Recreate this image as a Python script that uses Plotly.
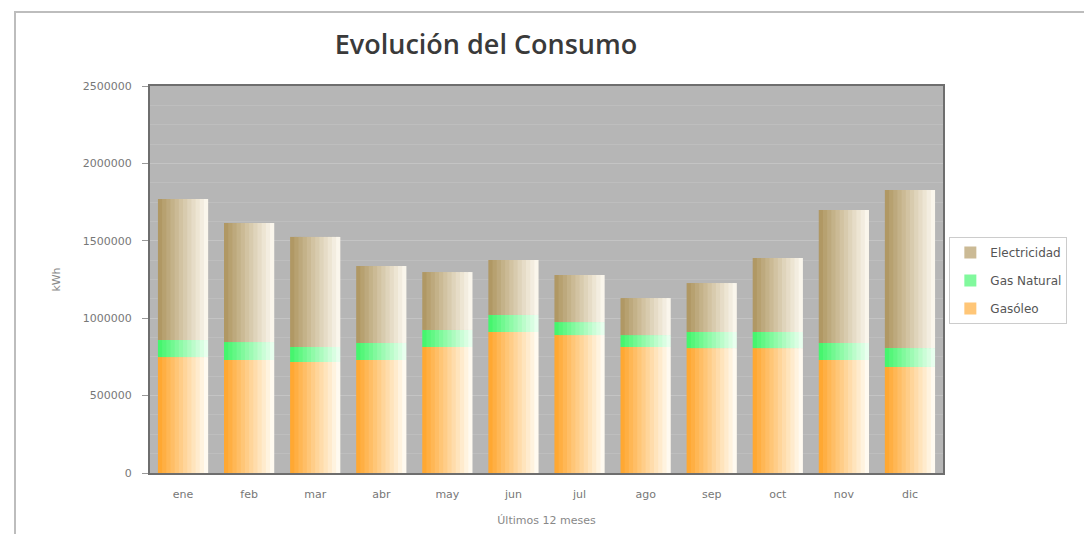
import plotly.graph_objects as go

meses = ["ene", "feb", "mar", "abr", "may", "jun", "jul", "ago", "sep", "oct", "nov", "dic"]
gasoleo = [749000, 730000, 717000, 730000, 814000, 911000, 891000, 814000, 807000, 807000, 730000, 685000]
gas_natural = [110000, 116000, 97000, 110000, 110000, 110000, 84000, 77000, 104000, 104000, 110000, 122000]
electricidad = [911000, 769000, 711000, 497000, 374000, 355000, 304000, 239000, 316000, 478000, 859000, 1021000]
y_ticks = [0, 500000, 1000000, 1500000, 2000000, 2500000]

series = [
    ("Gasóleo", gasoleo, (255, 168, 50), (255, 250, 240), 3),
    ("Gas Natural", gas_natural, (70, 245, 110), (232, 255, 238), 2),
    ("Electricidad", electricidad, (176, 152, 100), (250, 246, 236), 1),
]

N = 12
total_w = 0.76
sw = total_w / N

fig = go.Figure()
base = [0] * len(meses)
for name, vals, c0, c1, rank in series:
    for i in range(N):
        t = i / (N - 1)
        col = "rgb(%d,%d,%d)" % tuple(round(a + (b - a) * t) for a, b in zip(c0, c1))
        w = sw * 1.6 if i < N - 1 else sw
        fig.add_trace(go.Bar(
            x=meses, y=vals, base=base,
            width=w, offset=-total_w / 2 + i * sw,
            marker=dict(color=col, line=dict(width=0)),
            name=name, legendgroup=name, legendrank=rank,
            showlegend=(i == 4), hoverinfo="skip",
        ))
    base = [b + v for b, v in zip(base, vals)]

fig.update_layout(
    width=1084, height=534,
    barmode="overlay",
    paper_bgcolor="white",
    plot_bgcolor="#b6b6b6",
    margin=dict(l=150, r=141, t=86, b=61, autoexpand=False),
    font=dict(family="DejaVu Sans", color="#666666", size=11),
    title=dict(text="Evolución del Consumo", x=486 / 1084, xanchor="center",
               y=1 - 45 / 534, yanchor="middle",
               font=dict(family="Open Sans", size=27, color="#3a3a3a", weight=600)),
    legend=dict(x=1.008, y=0.61, xanchor="left", yanchor="top",
                bordercolor="#cccccc", borderwidth=1, bgcolor="white",
                font=dict(size=12, color="#555555"), traceorder="grouped",
                itemwidth=30, tracegroupgap=9),
    xaxis=dict(showgrid=False, showline=True, linecolor="#6e6e6e", linewidth=2,
               mirror=True, ticks="", tickfont=dict(size=11, color="#777777"),
               ticklabelstandoff=10, automargin=False,
               title=dict(text="Últimos 12 meses", font=dict(size=11, color="#888888"),
                          standoff=16)),
    yaxis=dict(range=[0, 2500000], tickvals=y_ticks,
               ticktext=[str(v) for v in y_ticks],
               showgrid=True, gridcolor="#c4c4c4", gridwidth=1,
               minor=dict(dtick=125000, showgrid=True, gridcolor="#bebebe", gridwidth=1),
               showline=True, linecolor="#6e6e6e", linewidth=2, mirror=True,
               ticks="outside", ticklen=6, tickcolor="#999999",
               ticklabelstandoff=8, automargin=False,
               tickfont=dict(size=11, color="#777777"),
               title=dict(text="kWh", font=dict(size=11, color="#888888"), standoff=20),
               zeroline=False),
    shapes=[dict(type="rect", xref="paper", yref="paper",
                 x0=(15 - 150) / 793, x1=(1090 - 150) / 793,
                 y0=(473 - 540) / 387, y1=(473 - 12) / 387,
                 line=dict(color="#bdbdbd", width=2), layer="below")],
)

fig.write_html("out.html")
